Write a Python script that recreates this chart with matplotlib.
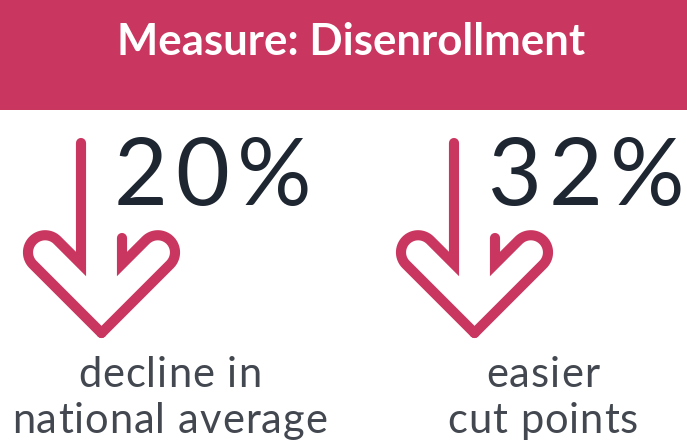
import numpy as np
import matplotlib
matplotlib.use("Agg")
import matplotlib.pyplot as plt
from matplotlib.patches import Rectangle

# data
title = "Measure: Disenrollment"
values = [20, 32]
captions = [["decline in", "national average"], ["easier", "cut points"]]

pink = "#C9365F"
dark = "#1E2631"
gray = "#434850"

W, H = 687, 443
fig = plt.figure(figsize=(W / 100, H / 100), dpi=100)
ax = fig.add_axes([0, 0, 1, 1])
ax.set_xlim(0, W)
ax.set_ylim(H, 0)
ax.axis("off")
renderer = fig.canvas.get_renderer()


def text_width(s, **kw):
    t = ax.text(0, 0, s + "|", **kw)
    w = t.get_window_extent(renderer).width
    t.remove()
    t = ax.text(0, 0, "|", **kw)
    w -= t.get_window_extent(renderer).width
    t.remove()
    return w


def tracked_text(x, y, s, track, ha="left", **kw):
    # text with extra letter spacing (px), drawn char by char
    total = text_width(s, **kw) + track * (len(s) - 1)
    if ha == "center":
        x = x - total / 2
    for k, ch in enumerate(s):
        if ch == " ":
            continue
        xk = x + text_width(s[:k], **kw) + track * k
        ax.text(xk, y, ch, ha="left", va="baseline", **kw)


# banner
ax.add_patch(Rectangle((0, 0), W, 110, color=pink, lw=0))
ax.text(351, 55, title, ha="center", va="baseline", color="white",
        fontsize=31.5, fontfamily="Lato", fontweight="bold")


def arrow_half(x0, shaft_top, corner_y, tip_x, tip_y, lobe_edge, side):
    # one half of the down arrow icon: straight part, diagonal, round lobe, back to the tip
    s = 1 if side < 0 else -1
    c_in = corner_y - s * x0
    c_out = tip_y - s * tip_x
    r = (c_out - c_in) / (2 * np.sqrt(2))
    m = (c_in + c_out) / 2
    cx = lobe_edge + r if side < 0 else lobe_edge - r
    cy = m + s * cx
    if side < 0:
        phi = np.radians(np.linspace(-45, -225, 40))
    else:
        phi = np.radians(np.linspace(-135, 45, 40))
    xs = np.concatenate([[x0, x0], cx + r * np.cos(phi), [tip_x]])
    ys = np.concatenate([[shaft_top, corner_y], cy + r * np.sin(phi), [tip_y]])
    ax.plot(xs, ys, color=pink, lw=7.3, solid_capstyle="round",
            solid_joinstyle="miter")


offsets = [0, 373]
for i, v in enumerate(values):
    dx = offsets[i]
    arrow_half(81 + dx, 143, 264, 101.5 + dx, 333, 28 + dx, -1)
    arrow_half(122 + dx, 238, 264, 101.5 + dx, 333, 175 + dx, 1)
    tracked_text(114 + dx, 205, f"{v}%", 7.5, color=dark,
                 fontsize=67, fontfamily="Lato", fontweight="normal")
    cx = 169.5 + dx
    tracked_text(cx, 387, captions[i][0], 1.0, ha="center", color=gray,
                 fontsize=30, fontfamily="Lato", fontweight="normal")
    tracked_text(cx, 433, captions[i][1], 1.0, ha="center", color=gray,
                 fontsize=30, fontfamily="Lato", fontweight="normal")

fig.savefig("out.png", dpi=100, facecolor="white")
